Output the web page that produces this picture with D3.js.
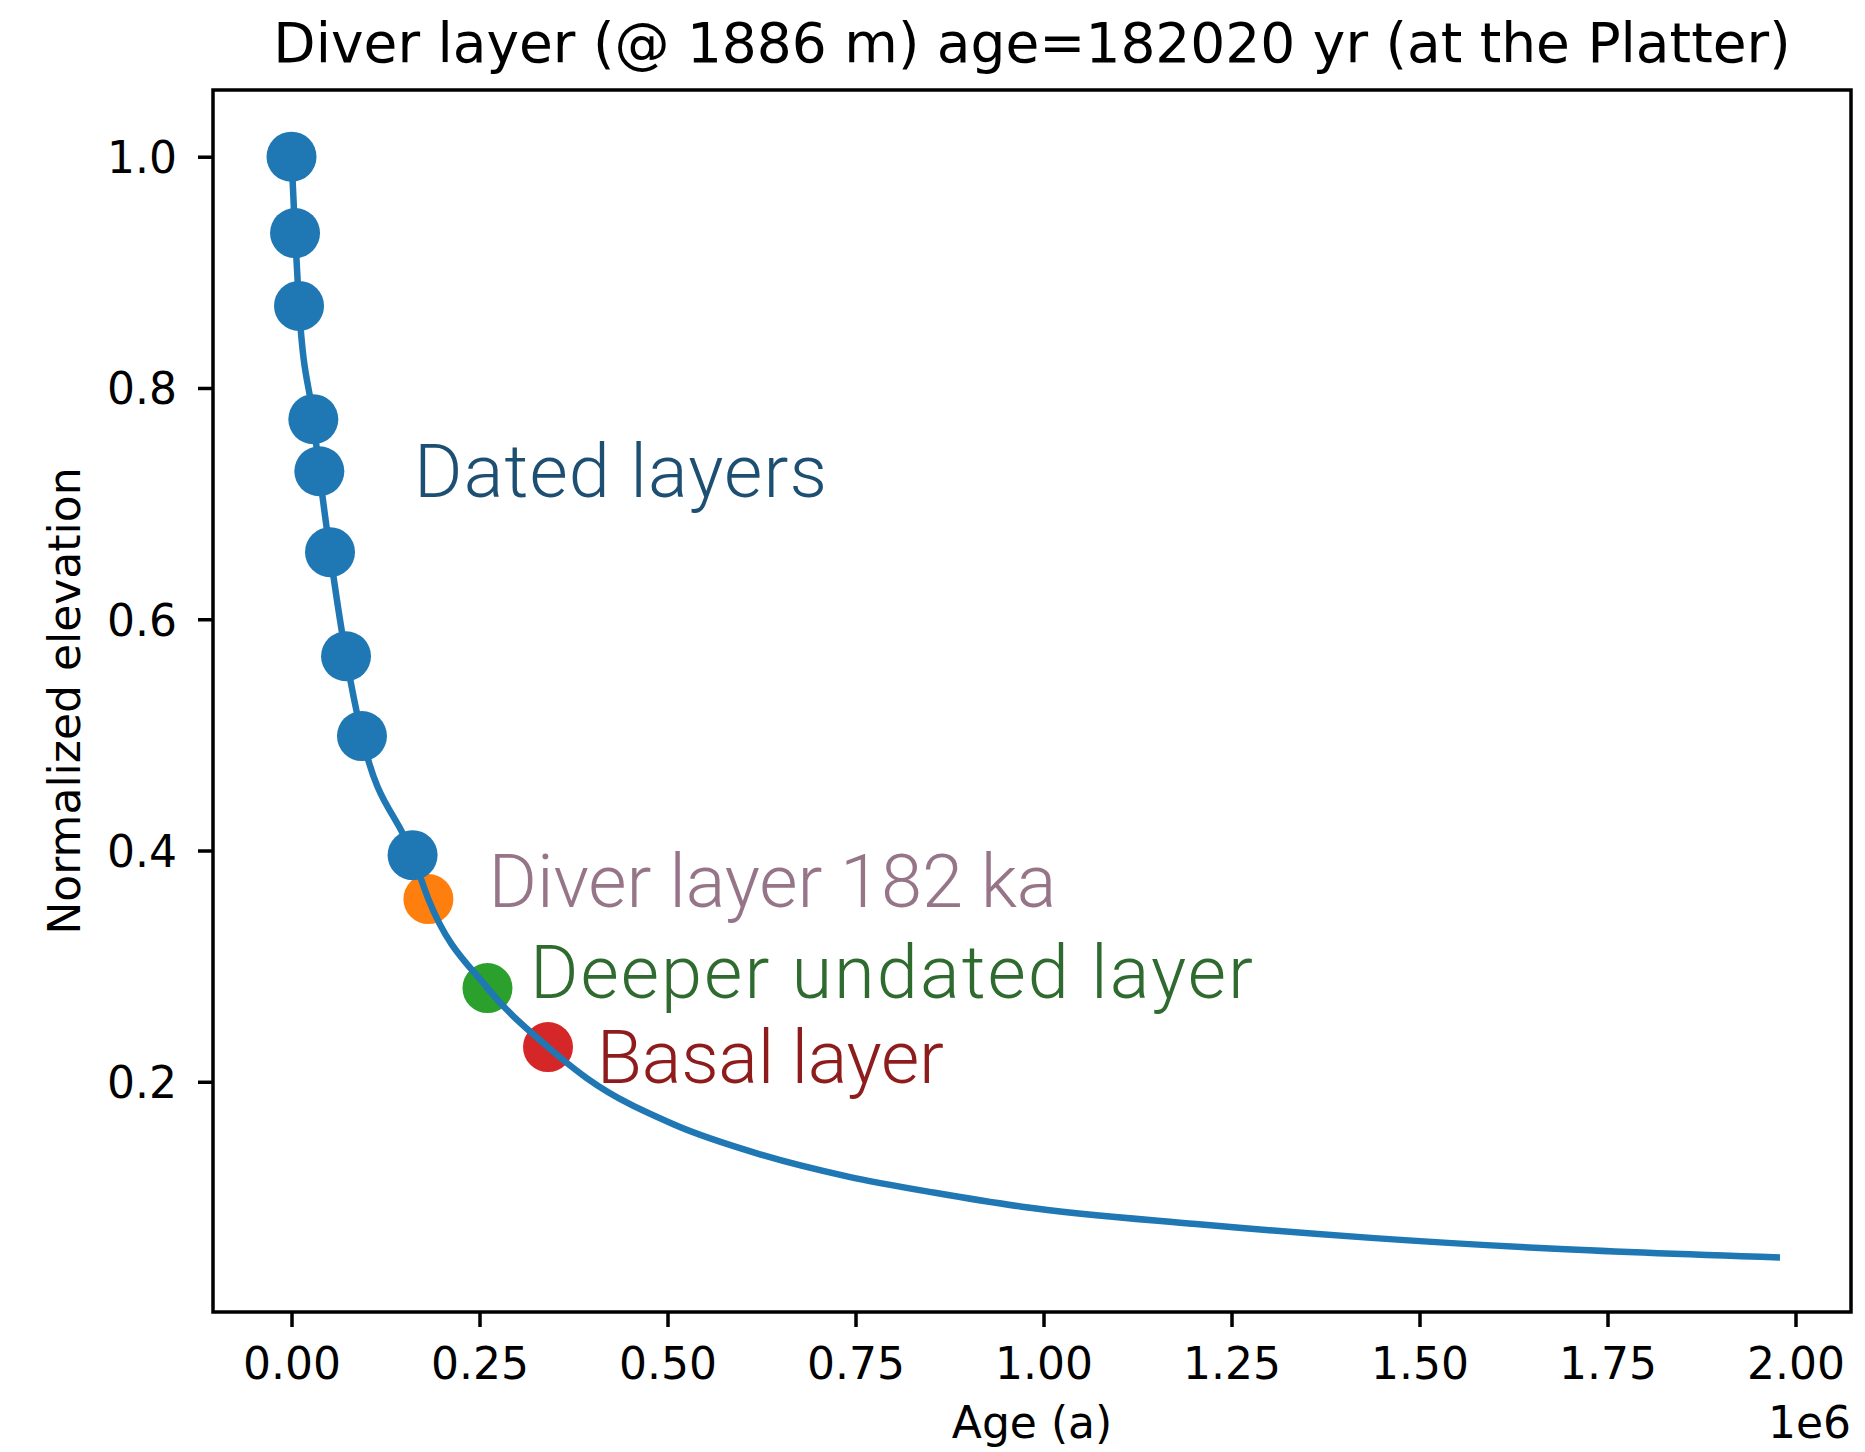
<!DOCTYPE html>
<html>
<head>
<meta charset="utf-8">
<script src="https://cdn.jsdelivr.net/npm/d3@7"></script>
<style>
  body { margin: 0; background: #fff; }
  svg { display: block; }
</style>
</head>
<body>
<svg id="chart" width="1865" height="1452"></svg>
<script>
// Dated layers: age (years) and normalized elevation
const datedAge  = [0, 4700, 10000, 29000, 37000, 51200, 72500, 93700, 161000];
const datedElev = [1.0, 0.934, 0.871, 0.773, 0.728, 0.658, 0.568, 0.499, 0.396];

// Age–elevation curve through the dated layers and on toward the bed
const curveAge  = [0, 4700, 10000, 29000, 37000, 51200, 72500, 93700, 161000, 182020,
                   260600, 341100, 393000, 508600, 624300, 740000, 855700, 971400,
                   1202800, 1435500, 1666900, 1979400];
const curveElev = [1.0, 0.934, 0.871, 0.773, 0.728, 0.658, 0.568, 0.499, 0.396, 0.358,
                   0.281, 0.230, 0.203, 0.163, 0.137, 0.118, 0.104, 0.092,
                   0.077, 0.065, 0.056, 0.048];

// Highlighted layers
const layerNames  = ["Diver layer", "Deeper undated layer", "Basal layer"];
const layerAge    = [182020, 260600, 341100];
const layerElev   = [0.358, 0.281, 0.230];
const layerColors = ["#ff7f0e", "#2ca02c", "#d62728"];

// Text annotations (anchored in data units)
const noteText   = ["Dated layers", "Diver layer 182 ka", "Deeper undated layer", "Basal layer"];
const noteAge    = [163000, 262000, 317000, 406000];
const noteElev   = [0.706, 0.351, 0.2725, 0.199];
const noteColors = ["#1d4f72", "#967588", "#2f6a2f", "#8f1c1c"];

// Axis ticks
const xTicks = [0, 250000, 500000, 750000, 1000000, 1250000, 1500000, 1750000, 2000000];
const yTicks = [0.2, 0.4, 0.6, 0.8, 1.0];

const titleText = "Diver layer (@ 1886 m) age=182020 yr (at the Platter)";
const xLabel = "Age (a)";
const yLabel = "Normalized elevation";
const xOffsetLabel = "1e6";

// ---- layout ----
const W = 1865, H = 1452;
const plot = { left: 213, right: 1851, top: 90, bottom: 1312 };
const blue = "#1f77b4";
const baseFont = "'DejaVu Sans', sans-serif";
const noteFont = "Roboto, 'Noto Sans', sans-serif";
const noteSetWidth = [413, 568, 723, 347];   // rendered width of each annotation, px

const svg = d3.select("#chart");
svg.append("rect").attr("width", W).attr("height", H).attr("fill", "#fff");

const x = d3.scaleLinear().domain([-104400, 2073800]).range([plot.left, plot.right]);
const y = d3.scaleLinear().domain([0.0009, 1.0577]).range([plot.bottom, plot.top]);

// highlighted layer markers sit beneath the curve
const layers = layerAge.map((a, i) => ({ age: a, elev: layerElev[i], color: layerColors[i], name: layerNames[i] }));
svg.append("g").selectAll("circle").data(layers).join("circle")
  .attr("cx", d => x(d.age)).attr("cy", d => y(d.elev)).attr("r", 25)
  .attr("fill", d => d.color);

// curve
const curve = curveAge.map((a, i) => ({ age: a, elev: curveElev[i] }));
const line = d3.line().x(d => x(d.age)).y(d => y(d.elev)).curve(d3.curveMonotoneX);
svg.append("path").datum(curve)
  .attr("d", line).attr("fill", "none").attr("stroke", blue)
  .attr("stroke-width", 6.5).attr("stroke-linejoin", "round").attr("stroke-linecap", "butt");

// dated layer markers
const dated = datedAge.map((a, i) => ({ age: a, elev: datedElev[i] }));
svg.append("g").selectAll("circle").data(dated).join("circle")
  .attr("cx", d => x(d.age)).attr("cy", d => y(d.elev)).attr("r", 25)
  .attr("fill", blue);

// annotations
const notes = noteText.map((t, i) => ({ text: t, age: noteAge[i], elev: noteElev[i], color: noteColors[i], w: noteSetWidth[i] }));
svg.append("g").selectAll("text").data(notes).join("text")
  .attr("x", d => x(d.age)).attr("y", d => y(d.elev))
  .attr("fill", d => d.color)
  .attr("textLength", d => d.w).attr("lengthAdjust", "spacing")
  .style("font-family", noteFont).style("font-weight", 300).style("font-size", "74px")
  .text(d => d.text);

// axes
const xAxis = d3.axisBottom(x).tickValues(xTicks)
  .tickFormat(d => (d / 1e6).toFixed(2)).tickSize(15).tickPadding(21);
const yAxis = d3.axisLeft(y).tickValues(yTicks)
  .tickFormat(d => d.toFixed(1)).tickSize(15).tickPadding(21);

const gx = svg.append("g").attr("transform", `translate(0,${plot.bottom})`).call(xAxis);
const gy = svg.append("g").attr("transform", `translate(${plot.left},0)`).call(yAxis);
[gx, gy].forEach(g => {
  g.select(".domain").remove();
  g.selectAll(".tick line").attr("stroke", "#000").attr("stroke-width", 3.5);
  g.selectAll(".tick text").attr("fill", "#000")
    .style("font-family", baseFont).style("font-size", "44px");
});
gy.selectAll(".tick text").attr("dy", "0.36em");

// frame
svg.append("rect")
  .attr("x", plot.left).attr("y", plot.top)
  .attr("width", plot.right - plot.left).attr("height", plot.bottom - plot.top)
  .attr("fill", "none").attr("stroke", "#000").attr("stroke-width", 3.5);

// title and labels
const cx = (plot.left + plot.right) / 2;
svg.append("text").attr("x", cx).attr("y", 62).attr("text-anchor", "middle")
  .style("font-family", baseFont).style("font-size", "55px").text(titleText);

svg.append("text").attr("x", cx).attr("y", 1438).attr("text-anchor", "middle")
  .style("font-family", baseFont).style("font-size", "44px").text(xLabel);

svg.append("text").attr("x", plot.right).attr("y", 1438).attr("text-anchor", "end")
  .style("font-family", baseFont).style("font-size", "44px").text(xOffsetLabel);

svg.append("text")
  .attr("transform", `translate(80,${(plot.top + plot.bottom) / 2}) rotate(-90)`)
  .attr("text-anchor", "middle")
  .style("font-family", baseFont).style("font-size", "44px").text(yLabel);
</script>
</body>
</html>
